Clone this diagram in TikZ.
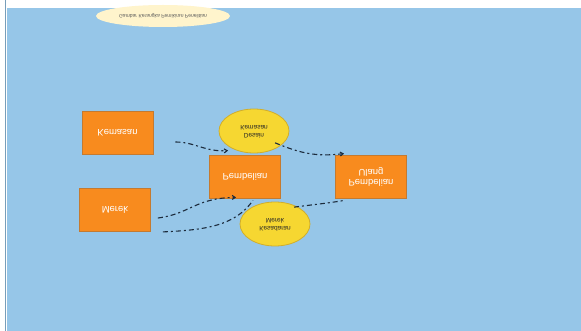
\documentclass[tikz,border=0pt]{standalone}
\usepackage{fontspec}
\usepackage{graphicx}
\setmainfont{Liberation Sans}
\usetikzlibrary{arrows.meta,shapes.geometric,calc}
\definecolor{bgblue}{HTML}{96C6E8}
\definecolor{boxor}{HTML}{F88B1E}
\definecolor{boxbd}{HTML}{C47A30}
\definecolor{elly}{HTML}{F6D731}
\definecolor{ellbd}{HTML}{D1AE2C}
\definecolor{cream}{HTML}{FFF4CC}
\definecolor{lnk}{HTML}{1C2B3C}
\newcommand\flipT[1]{\scalebox{1}[-1]{#1}}
\tikzset{
  varbox/.style={draw=boxbd, line width=0.8pt, fill=boxor, minimum width=71pt, minimum height=43pt, inner sep=0pt, text=white, font=\fontsize{9.5}{10.5}\selectfont},
  indell/.style={ellipse, draw=ellbd, line width=0.8pt, fill=elly, minimum width=70pt, minimum height=44pt, inner sep=0pt, text=black!85, font=\fontsize{6.5}{7.5}\selectfont},
  titell/.style={ellipse, fill=cream, minimum width=134pt, minimum height=22pt, inner sep=0pt, text=black!65, font=\fontsize{5}{6}\selectfont},
  lnkline/.style={draw=lnk, line width=1.1pt, dash pattern=on 5pt off 3pt on 2pt off 3pt},
  lnkarrow/.style={lnkline, -{Straight Barb[length=3pt,width=4pt]}}
}
\begin{document}
\begin{tikzpicture}[x=1pt,y=-1pt]
\useasboundingbox (0,0) rectangle (581,331);
\fill[white] (0,0) rectangle (581,331);
\fill[bgblue] (7,8) rectangle (581,331);
\draw[bgblue!80!black, line width=1pt] (5,0) -- (5,331);

\node[titell] (title) at (163,16) {\flipT{Gambar Kerangka Pemikiran Penelitian}};

\node[varbox] (kem) at (117.5,133) {\flipT{Kemasan}};
\node[varbox] (mer) at (115,210) {\flipT{Merek}};
\node[varbox] (pem) at (245,176.5) {\flipT{Pembelian}};
\node[varbox] (ul) at (371,176.5) {\flipT{\begin{tabular}{@{}c@{}}Pembelian\\Ulang\end{tabular}}};

\node[indell] (dk) at (254,131) {\flipT{\begin{tabular}{@{}c@{}}Desain\\Kemasan\end{tabular}}};
\node[indell] (km) at (275,224) {\flipT{\begin{tabular}{@{}c@{}}Kesadaran\\Merek\end{tabular}}};

\coordinate (s1) at ($(kem.east)+(22,9)$);
\coordinate (s2) at ($(dk.south east)+(-4,-4)$);
\coordinate (s3) at ($(mer.east)+(7,8)$);
\coordinate (s4) at ($(mer.south east)+(12,0)$);
\coordinate (s5) at ($(km.north east)+(-6,-1)$);

\draw[lnkarrow] (s1) .. controls (195,142) and (205,152) .. ($(pem.north west)+(19,-4)$);
\draw[lnkarrow] (s2) .. controls (300,153) and (315,157) .. ($(ul.north west)+(9,-1)$);
\draw[lnkarrow] (s3) .. controls (190,214) and (195,198) .. ($(pem.south west)+(27,-1)$);
\draw[lnkline] (s4) .. controls (205,230) and (235,226) .. ($(pem.south)+(8,2)$);
\draw[lnkline] (s5) .. controls (310,205) and (330,203) .. ($(ul.south west)+(9,2)$);
\end{tikzpicture}
\end{document}
